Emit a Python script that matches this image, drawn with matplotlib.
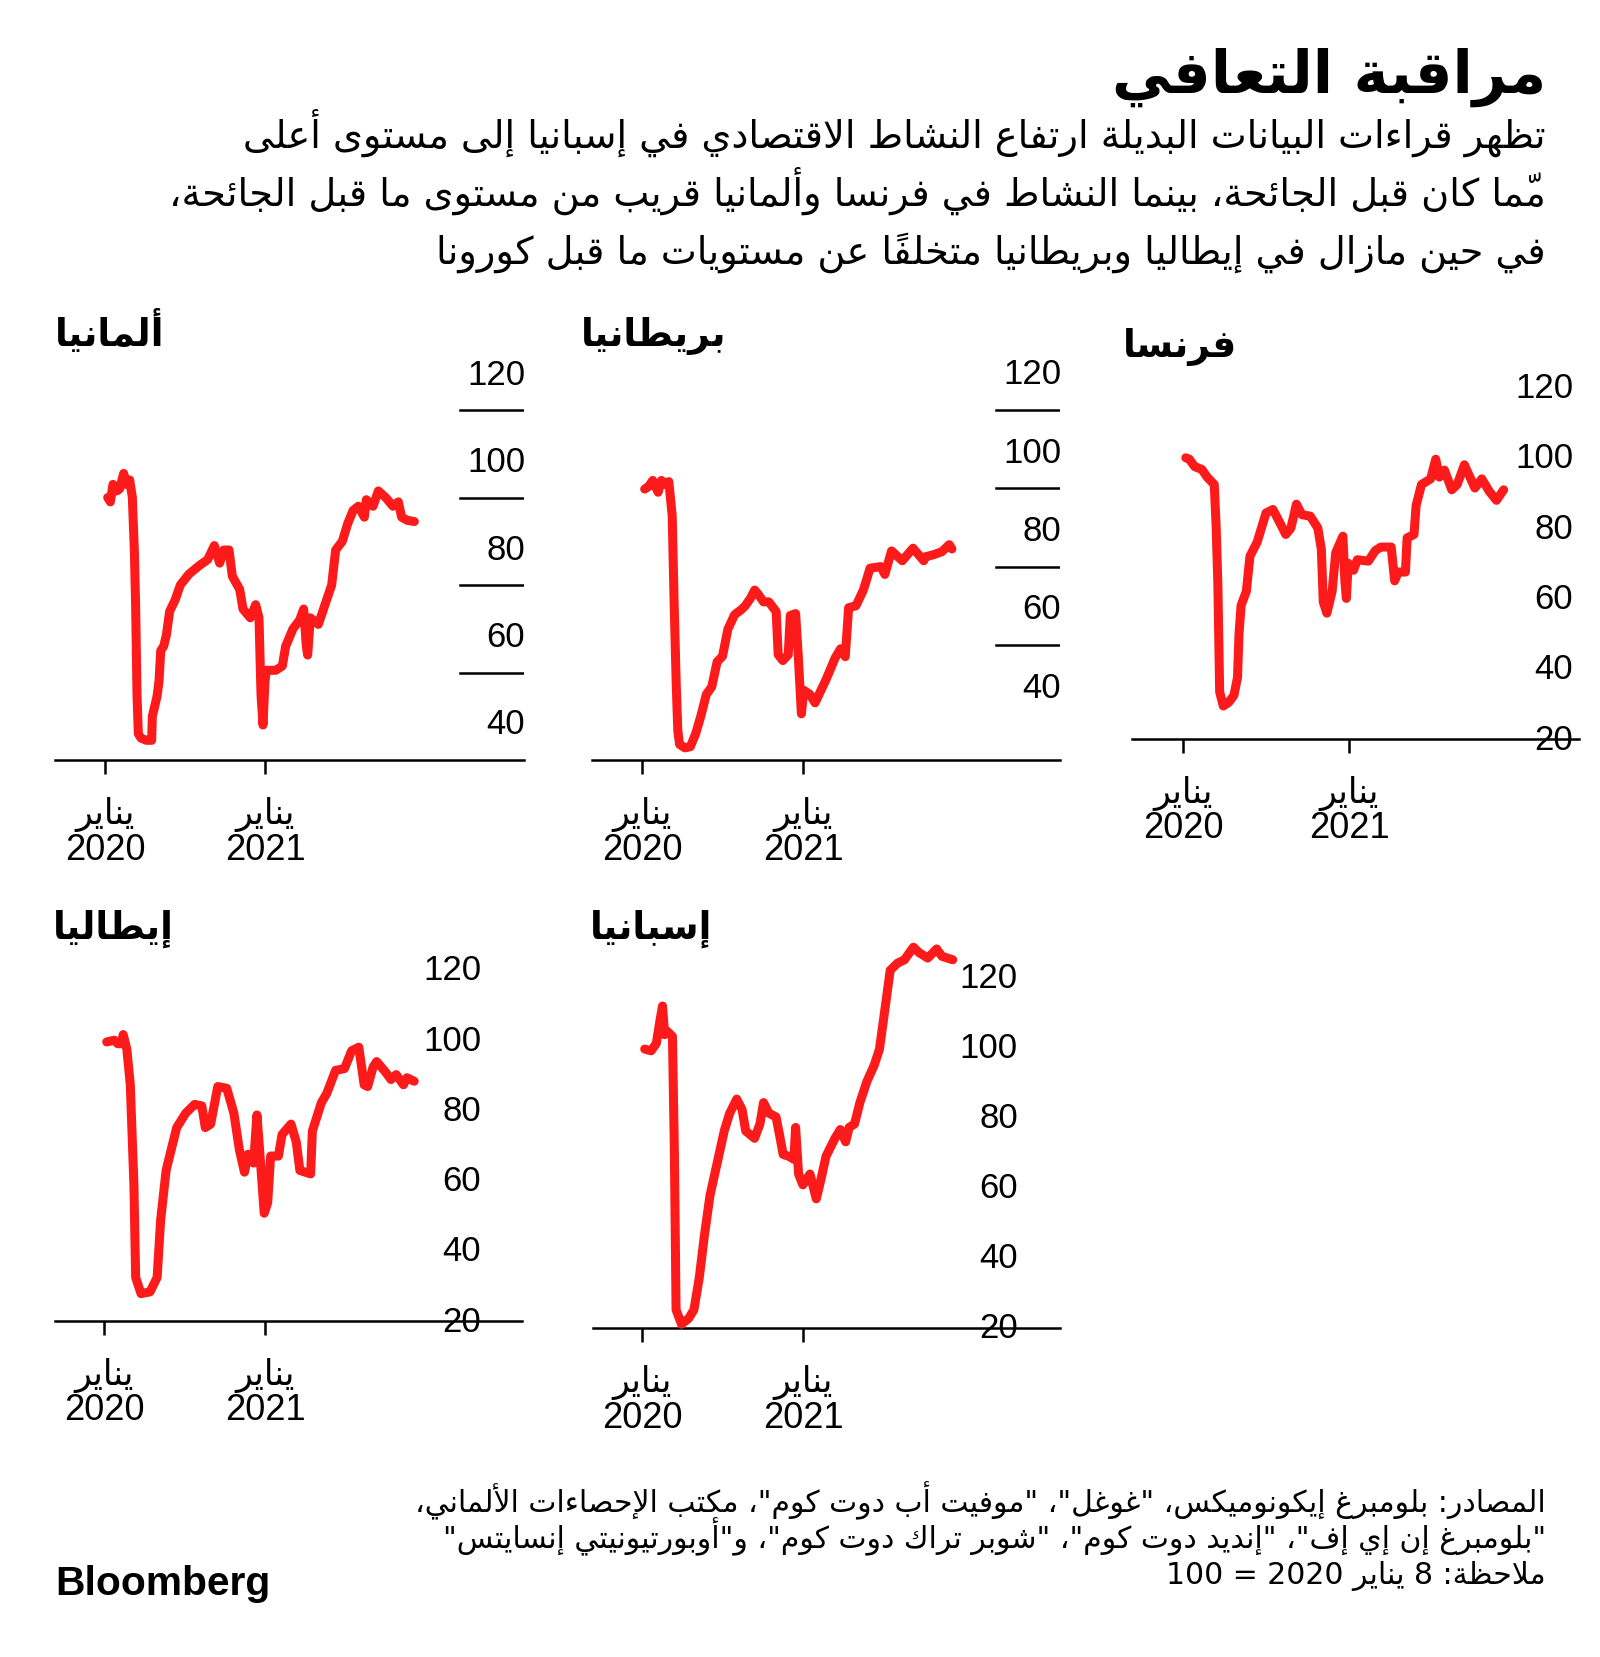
import re
import matplotlib
matplotlib.use("Agg")
import matplotlib.pyplot as plt

# DATA  (x = months after 1 Jan 2020, y = activity index, 8 Jan 2020 = 100)
de_months = [0.2, 0.4, 0.6, 0.9, 1.1, 1.4, 1.6, 1.85, 2.05, 2.2, 2.3, 2.4, 2.5, 2.7, 3.1, 3.5, 3.55, 3.9,
             4.05, 4.18, 4.4, 4.6, 4.85, 5.25, 5.65, 6.3, 7.1, 7.7, 8.2, 8.4, 8.6, 8.9, 9.3, 9.55, 10.1,
             10.35, 10.9, 11.3, 11.55, 11.7, 11.85, 12.0, 12.1, 12.8, 13.3, 13.55, 14.1, 14.6, 14.9, 15.1,
             15.2, 15.4, 16.0, 16.5, 17.0, 17.3, 17.8, 18.2, 18.6, 19.0, 19.45, 19.6, 20.1, 20.5, 21.05,
             21.6, 22.0, 22.25, 22.65, 23.2]
de_values = [100, 99, 103, 101.5, 102, 105.5, 103, 104, 100, 88, 75, 55, 46, 45, 44.5, 44.5, 50, 54.5,
             58, 65, 66, 68.5, 74, 76.5, 80, 82.5, 84.5, 85.8, 89, 87, 85, 88, 88, 82, 79,
             74.5, 72.5, 75.5, 72.5, 55, 48, 58, 60.5, 60.5, 61.5, 66, 70, 72, 74.5, 66,
             64, 72.5, 71, 75.5, 80, 88, 90, 94, 97, 98, 95.5, 99.5, 98, 101.5, 100,
             98, 99, 95.5, 94.8, 94.5]

uk_months = [0.2, 0.5, 0.8, 1.2, 1.45, 1.7, 2.0, 2.25, 2.4, 2.55, 2.67, 2.8, 3.2, 3.6, 4.0, 4.4, 4.8, 5.2,
             5.6, 6.0, 6.4, 6.9, 7.4, 7.7, 8.1, 8.4, 8.65, 9.05, 9.45, 10.0, 10.15, 10.5, 10.9, 11.05,
             11.45, 11.65, 11.88, 12.06, 12.5, 12.9, 13.2, 13.7, 14.4, 14.8, 15.15, 15.4, 15.95, 16.5,
             17.0, 17.8, 18.1, 18.6, 19.4, 20.2, 21.0, 21.1, 21.7, 22.35, 22.9, 23.1]
uk_values = [99.8, 100.5, 102, 99, 102, 101, 101.7, 93, 70, 50, 38, 34.6, 33.7, 34, 37.3, 42, 47.4, 49.3,
             55.7, 57.1, 64, 67.7, 69, 70, 72, 74, 73, 71, 71, 68.5, 57.5, 56, 57.5, 67.5,
             68, 57, 42.4, 48.4, 47.4, 45.2, 47.4, 51, 56.7, 59, 57, 69.5, 70, 74,
             79.6, 80, 78, 84, 81.5, 84.7, 81.5, 82.5, 83, 83.8, 85.6, 84.5]

fr_months = [0.2, 0.46, 0.84, 1.36, 1.75, 2.26, 2.4, 2.52, 2.65, 2.91, 3.3, 3.68, 3.94, 4.05, 4.2, 4.58,
             4.84, 5.36, 6.0, 6.5, 6.9, 7.43, 7.8, 8.2, 8.6, 9.2, 9.75, 10.0, 10.14, 10.4, 10.78, 11.04,
             11.56, 11.7, 11.81, 11.94, 12.33, 12.6, 13.4, 13.9, 14.3, 15.05, 15.3, 15.56, 16.08, 16.2,
             16.7, 16.85, 17.24, 17.9, 18.27, 18.53, 18.9, 19.43, 19.82, 20.34, 21.1, 21.6, 22.15,
             22.66, 23.18]
fr_values = [100, 99.6, 97.5, 96.7, 94.5, 92.4, 80, 64, 33.4, 29.4, 30.4, 32.4, 37.5, 50, 58, 62,
             72, 76, 84.3, 85.3, 82.3, 78.2, 80, 86.8, 83.8, 83.4, 80, 74, 59, 55.8, 62, 73,
             77.7, 65, 60, 70, 68, 71, 70.6, 73.6, 74.6, 74.6, 65, 67.5, 67.5, 77.2,
             78.2, 86.4, 92.4, 94, 99.6, 94.5, 96.5, 90.9, 92.4, 98, 91.4, 94, 90.4,
             87.9, 90.9]

it_months = [0.2, 0.77, 1.03, 1.3, 1.43, 1.7, 1.96, 2.23, 2.36, 2.76, 3.43, 3.96, 4.22, 4.63, 5.02, 5.42,
             6.09, 6.75, 7.29, 7.55, 7.95, 8.48, 9.15, 9.68, 10.08, 10.47, 10.74, 11.15, 11.4, 11.67,
             11.94, 12.2, 12.42, 13.0, 13.27, 13.94, 14.33, 14.6, 15.4, 15.53, 16.2, 16.6, 17.26, 17.92,
             18.46, 18.99, 19.39, 19.65, 20.06, 20.32, 20.99, 21.39, 21.78, 22.32, 22.58, 23.12]
it_values = [99.5, 100, 99, 99, 101.6, 97.5, 87.3, 58.8, 32.4, 27.8, 28.3, 32.4, 48.7, 62.9, 69, 75.1,
             79.2, 81.7, 81.3, 75.1, 76.1, 86.8, 86.3, 79.2, 69, 62.4, 67.5, 65, 78.7, 65,
             50.7, 53.7, 67, 67, 73.1, 76.1, 71, 62.9, 61.9, 74.1, 82.2, 84.8, 91.4, 91.9,
             97, 98, 87.3, 86.8, 92.4, 93.9, 90.9, 88.8, 90.2, 87.3, 89.3, 88.3]

es_months = [0.2, 0.68, 1.07, 1.34, 1.53, 1.69, 1.87, 2.27, 2.41, 2.54, 2.94, 3.47, 3.87, 4.27, 4.66,
             5.07, 5.6, 6.13, 6.53, 7.06, 7.46, 7.73, 8.39, 8.79, 9.06, 9.45, 9.99, 10.25, 10.52, 10.92,
             11.32, 11.45, 11.67, 11.99, 12.52, 12.99, 13.31, 13.72, 14.38, 14.78, 15.18, 15.44, 15.84,
             16.24, 16.77, 17.31, 17.7, 18.1, 18.5, 19.03, 19.56, 20.23, 20.63, 21.3, 21.96, 22.36, 23.16]
es_values = [99.7, 99.2, 101.3, 107.9, 112, 103.8, 104.8, 103.3, 71.1, 25.2, 21.1, 22.7, 25.2, 34.4, 46.7,
             57.9, 67.1, 76.3, 81.3, 85.4, 82.4, 76.3, 74.2, 78.3, 84.4, 81.4, 80.3, 75.2, 69.6, 69.1,
             68.2, 77.3, 64, 60.9, 64, 56.9, 62, 69.1, 74.2, 76.7, 73.2, 77.3, 78.3,
             84.4, 90.5, 95.1, 99.7, 110.9, 122.2, 124.2, 125.2, 128.8, 127.3, 125.7, 128.3, 126.2, 125.2]

title = "مراقبة التعافي"
subtitle = ["تظهر قراءات البيانات البديلة ارتفاع النشاط الاقتصادي في إسبانيا إلى مستوى أعلى",
            "ممّا كان قبل الجائحة، بينما النشاط في فرنسا وألمانيا قريب من مستوى ما قبل الجائحة،",
            "في حين مازال في إيطاليا وبريطانيا متخلفاً عن مستويات ما قبل كورونا"]
footer = ['المصادر: بلومبرغ إيكونوميكس، "غوغل"، "موفيت أب دوت كوم"، مكتب الإحصاءات الألماني،',
          '"بلومبرغ إن إي إف"، "إنديد دوت كوم"، "شوبر تراك دوت كوم"، و"أوبورتيونيتي إنسايتس"',
          "ملاحظة: 8 يناير 2020 = 100"]
month_label = "يناير"
year_labels = ["2020", "2021"]

# ARABIC SHAPING (matplotlib has no shaping / bidi, so do it by hand)
AR_FORMS = {
    "ء": (0xFE80, 1), "آ": (0xFE81, 2), "أ": (0xFE83, 2), "ؤ": (0xFE85, 2), "إ": (0xFE87, 2),
    "ئ": (0xFE89, 4), "ا": (0xFE8D, 2), "ب": (0xFE8F, 4), "ة": (0xFE93, 2), "ت": (0xFE95, 4),
    "ث": (0xFE99, 4), "ج": (0xFE9D, 4), "ح": (0xFEA1, 4), "خ": (0xFEA5, 4), "د": (0xFEA9, 2),
    "ذ": (0xFEAB, 2), "ر": (0xFEAD, 2), "ز": (0xFEAF, 2), "س": (0xFEB1, 4), "ش": (0xFEB5, 4),
    "ص": (0xFEB9, 4), "ض": (0xFEBD, 4), "ط": (0xFEC1, 4), "ظ": (0xFEC5, 4), "ع": (0xFEC9, 4),
    "غ": (0xFECD, 4), "ف": (0xFED1, 4), "ق": (0xFED5, 4), "ك": (0xFED9, 4), "ل": (0xFEDD, 4),
    "م": (0xFEE1, 4), "ن": (0xFEE5, 4), "ه": (0xFEE9, 4), "و": (0xFEED, 2), "ى": (0xFEEF, 2),
    "ي": (0xFEF1, 4),
}
LAM_ALEF = {"آ": 0xFEF5, "أ": 0xFEF7, "إ": 0xFEF9, "ا": 0xFEFB}
HARAKAT = "\u064b\u064c\u064d\u064e\u064f\u0650\u0651\u0652"


def nforms(u):
    if u.startswith("LA"):
        return 2
    return AR_FORMS.get(u, (0, 0))[1]


def ar(text):
    units = []
    i = 0
    while i < len(text):
        c = text[i]
        if c in HARAKAT and units:
            units[-1][1] += c
        elif c == "ل" and i + 1 < len(text) and text[i + 1] in LAM_ALEF:
            units.append(["LA" + text[i + 1], ""])
            i += 1
        else:
            units.append([c, ""])
        i += 1
    glyphs = []
    for k, (u, marks) in enumerate(units):
        jp = k > 0 and nforms(units[k - 1][0]) == 4 and nforms(u) >= 2
        jn = k + 1 < len(units) and nforms(u) == 4 and nforms(units[k + 1][0]) >= 2
        n = nforms(u)
        if u.startswith("LA"):
            g = chr(LAM_ALEF[u[2]] + int(jp))
        elif n == 4:
            g = chr(AR_FORMS[u][0] + [[0, 2], [1, 3]][int(jp)][int(jn)])
        elif n == 2:
            g = chr(AR_FORMS[u][0] + int(jp))
        elif n == 1:
            g = chr(AR_FORMS[u][0])
        else:
            g = u
        glyphs.append(g + marks)
    # visual order, digits stay left to right
    tokens = []
    for g in glyphs:
        if g.isascii() and g.isalnum() and tokens and tokens[-1].isascii() and tokens[-1].isalnum():
            tokens[-1] += g
        else:
            tokens.append(g)
    return "".join(reversed(tokens))


# FIGURE
W, H = 1600, 1658
fig = plt.figure(figsize=(W / 100, H / 100), dpi=100)
AR_FONT = "DejaVu Sans"
NUM_FONT = "Liberation Sans"
RED = "#fc1a1a"


def fx(x):
    return x / W


def fy(y):
    return 1 - y / H


def fit_width(t, width):
    r = fig.canvas.get_renderer()
    w = t.get_window_extent(r).width
    t.set_fontsize(t.get_fontsize() * width / w)
    return t.get_fontsize()


# header
t = fig.text(fx(1546), fy(93), ar(title), ha="right", va="baseline", family=AR_FONT,
             weight="bold", fontsize=40)
fit_width(t, 434)

sub_texts = []
for line, base in zip(subtitle, [148, 206, 264]):
    sub_texts.append(fig.text(fx(1546), fy(base), ar(line), ha="right", va="baseline",
                              family=AR_FONT, fontsize=24))
size = fit_width(sub_texts[1], 1382)
for s in sub_texts:
    s.set_fontsize(size)

# panels
panels = [
    dict(name="ألمانيا", m=de_months, v=de_values, left=55, right=524, base=761, x20=105, x21=265,
         ymin=40, step=87.5, lab_right=525, lab_dy=36, labels=[40, 60, 80, 100, 120], grid_from=460,
         title_xy=(164, 346)),
    dict(name="بريطانيا", m=uk_months, v=uk_values, left=592, right=1060, base=761, x20=642, x21=803,
         ymin=30.6, step=78.3, lab_right=1061, lab_dy=36, labels=[40, 60, 80, 100, 120], grid_from=996,
         title_xy=(726, 346)),
    dict(name="فرنسا", m=fr_months, v=fr_values, left=1132, right=1579, base=740, x20=1183, x21=1349,
         ymin=20, step=70.3, lab_right=1573, lab_dy=0, labels=[20, 40, 60, 80, 100, 120], grid_from=None,
         title_xy=(1237, 357)),
    dict(name="إيطاليا", m=it_months, v=it_values, left=55, right=522, base=1322, x20=104, x21=265,
         ymin=20, step=70.2, lab_right=481, lab_dy=0, labels=[20, 40, 60, 80, 100, 120], grid_from=None,
         title_xy=(174, 939)),
    dict(name="إسبانيا", m=es_months, v=es_values, left=593, right=1060, base=1329, x20=642, x21=803,
         ymin=20, step=70, lab_right=1018, lab_dy=0, labels=[20, 40, 60, 80, 100, 120], grid_from=None,
         title_xy=(712, 939)),
]

for p in panels:
    L, R, B = p["left"], p["right"], p["base"]
    T = B - 470
    ax = fig.add_axes([fx(L), fy(B), (R - L) / W, (B - T) / H])
    ax.patch.set_alpha(0)
    ppu = p["step"] / 20
    ax.set_ylim(p["ymin"], p["ymin"] + (B - T) / ppu)
    mpx = (p["x21"] - p["x20"]) / 12
    ax.set_xlim((L - p["x20"]) / mpx, (R - p["x20"]) / mpx)
    ax.plot(p["m"], p["v"], color=RED, lw=6.5, solid_joinstyle="round", solid_capstyle="round",
            clip_on=False, zorder=3)
    for s in ["top", "left", "right"]:
        ax.spines[s].set_visible(False)
    ax.spines["bottom"].set_linewidth(1.8)
    ax.set_yticks([])
    ax.set_xticks([0, 12])
    ax.set_xticklabels([])
    ax.tick_params(axis="x", length=10, width=1.8, direction="out")
    if p["grid_from"] is not None:
        for v in p["labels"][1:]:
            ax.axhline(v, xmin=(p["grid_from"] - L) / (R - L), xmax=1, color="black", lw=1.8)
    for v in p["labels"]:
        ax.annotate(str(v), xy=(1, v), xycoords=("axes fraction", "data"),
                    xytext=(p["lab_right"] - R, p["lab_dy"]), textcoords="offset pixels",
                    ha="right", va="center", family=NUM_FONT, fontsize=25)
    for mth, yr in zip([0, 12], year_labels):
        ax.annotate(ar(month_label), xy=(mth, 0), xycoords=("data", "axes fraction"),
                    xytext=(0, -53), textcoords="offset pixels", ha="center", va="center",
                    family=AR_FONT, fontsize=25)
        ax.annotate(yr, xy=(mth, 0), xycoords=("data", "axes fraction"),
                    xytext=(0, -89), textcoords="offset pixels", ha="center", va="center",
                    family=NUM_FONT, fontsize=26)
    tx, ty = p["title_xy"]
    fig.text(fx(tx), fy(ty), ar(p["name"]), ha="right", va="baseline", family=AR_FONT,
             weight="bold", fontsize=27)

# footer
foot_texts = []
for line, base in zip(footer, [1512, 1548, 1584]):
    foot_texts.append(fig.text(fx(1546), fy(base), ar(line), ha="right", va="baseline",
                               family=AR_FONT, fontsize=16))
size = fit_width(foot_texts[0], 1130)
for s in foot_texts:
    s.set_fontsize(size)

logo = fig.text(fx(55), fy(1595), "Bloomberg", ha="left", va="baseline", family=NUM_FONT,
                weight="bold", fontsize=30)
fit_width(logo, 215)

fig.savefig("out.png", dpi=100, facecolor="white")
